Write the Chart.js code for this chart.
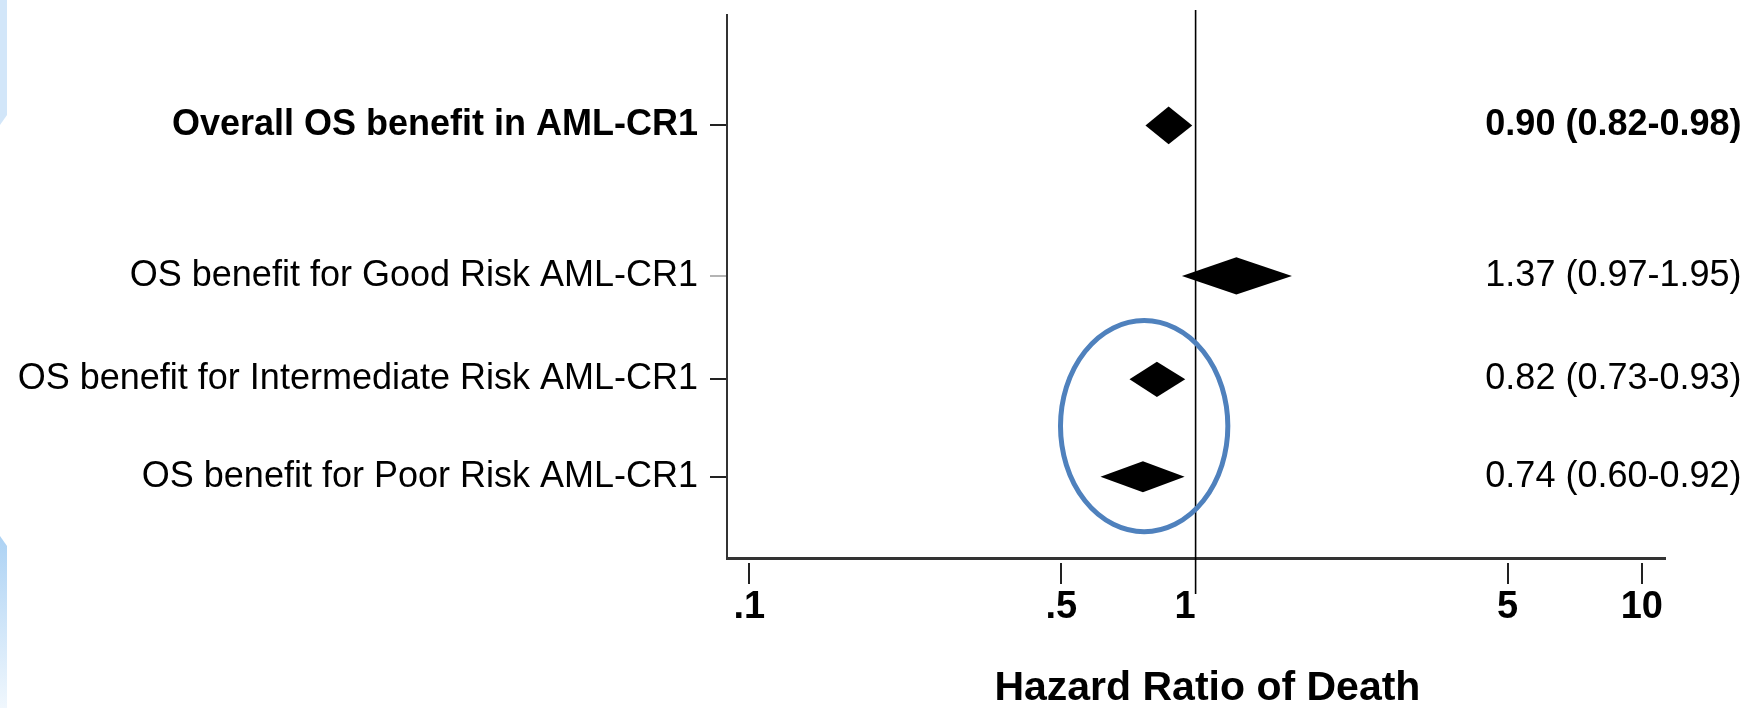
<!DOCTYPE html>
<html>
<head>
<meta charset="utf-8">
<script src="https://cdn.jsdelivr.net/npm/chart.js@4.4.1/dist/chart.umd.min.js"></script>
<style>
  html, body { margin:0; padding:0; background:#fff; }
  #wrap { position:relative; width:1747px; height:708px; }
  .deco { position:absolute; left:0; width:7px; }
  #decoTop { top:0; height:125px; background:#d2e6f9; clip-path:polygon(0 0,100% 0,100% 115px,0 125px); }
  #decoBot { top:536px; height:172px; background:linear-gradient(#acd2f4,#f0f7fd); clip-path:polygon(0 0,100% 10px,100% 100%,0 100%); }
  canvas { position:relative; }
</style>
</head>
<body>
<div id="wrap">
  <div class="deco" id="decoTop"></div>
  <div class="deco" id="decoBot"></div>
  <canvas id="forest"></canvas>
</div>
<script>
const FUENTE = "'Liberation Sans', Arial, sans-serif";

// ── Datos (filas de arriba a abajo) ─────────────────────────────────────────
const filas      = ["Overall OS benefit in AML-CR1", "OS benefit for Good Risk AML-CR1",
                    "OS benefit for Intermediate Risk AML-CR1", "OS benefit for Poor Risk AML-CR1"];
const posFila    = [4.5, 3, 1.97, 1];
const textoHR    = ["0.90 (0.82-0.98)", "1.37 (0.97-1.95)", "0.82 (0.73-0.93)", "0.74 (0.60-0.92)"];
// diamantes tal como se ven en el gráfico: extremo izq / centro / extremo der
const hrBajo     = [0.772, 0.932, 0.711, 0.612];
const hrCentro   = [0.870, 1.234, 0.819, 0.762];
const hrAlto     = [0.983, 1.644, 0.948, 0.945];
const ticksX     = [0.1, 0.5, 1, 5, 10];
const etiquetasX = [".1", ".5", "1", "5", "10"];
// elipse azul que marca los dos riesgos (en unidades de datos)
const elipse     = { xMin: 0.498, xMax: 1.181, yMin: 0.452, yMax: 2.556 };

// ── Plugin: diamantes, línea HR=1, textos de la derecha y elipse ────────────
const pluginForest = {
  id: "forest",
  afterDatasetsDraw(chart, args, opts) {
    const { ctx, scales: { x, y } } = chart;
    ctx.save();
    chart.data.datasets[0].data.forEach((d, i) => {
      const cy = y.getPixelForValue(d.y);
      const h  = opts.medioAlto[i];
      ctx.beginPath();
      ctx.moveTo(x.getPixelForValue(d.lo), cy);
      ctx.lineTo(x.getPixelForValue(d.x),  cy - h);
      ctx.lineTo(x.getPixelForValue(d.hi), cy);
      ctx.lineTo(x.getPixelForValue(d.x),  cy + h);
      ctx.closePath();
      ctx.fillStyle = "#000";
      ctx.fill();
    });
    ctx.restore();
  },
  afterDraw(chart, args, opts) {
    const { ctx, chartArea, scales: { x, y } } = chart;
    ctx.save();
    // línea de referencia en 1
    const x1 = x.getPixelForValue(1);
    ctx.beginPath();
    ctx.moveTo(x1, chartArea.top - 5);
    ctx.lineTo(x1, chartArea.bottom + 36);
    ctx.lineWidth = 1.6;
    ctx.strokeStyle = "#000";
    ctx.stroke();

    // HR (IC) a la derecha
    ctx.textAlign = "right";
    ctx.textBaseline = "middle";
    ctx.fillStyle = "#000";
    textoHR.forEach((t, i) => {
      ctx.font = (i === 0 ? "bold " : "") + "36px " + FUENTE;
      ctx.fillText(t, chart.width - 5.5, y.getPixelForValue(posFila[i]));
    });

    // elipse
    const xa = x.getPixelForValue(elipse.xMin), xb = x.getPixelForValue(elipse.xMax);
    const ya = y.getPixelForValue(elipse.yMax), yb = y.getPixelForValue(elipse.yMin);
    ctx.beginPath();
    ctx.ellipse((xa + xb) / 2, (ya + yb) / 2, (xb - xa) / 2, (yb - ya) / 2, 0, 0, Math.PI * 2);
    ctx.lineWidth = 5;
    ctx.strokeStyle = "#4f81bd";
    ctx.stroke();
    ctx.restore();
  }
};

new Chart(document.getElementById("forest"), {
  type: "scatter",
  data: {
    datasets: [{
      data: filas.map((f, i) => ({ x: hrCentro[i], y: posFila[i], lo: hrBajo[i], hi: hrAlto[i] })),
      pointRadius: 0, pointHoverRadius: 0
    }]
  },
  options: {
    responsive: true, maintainAspectRatio: false, animation: false,
    layout: { padding: { top: 15, right: 82, bottom: 0, left: 0 } },
    scales: {
      x: {
        type: "logarithmic", bounds: "data", min: 0.0891, max: 11.27,
        afterBuildTicks: s => { s.ticks = ticksX.map(v => ({ value: v })); },
        afterFit: s => { s.height = 150; s.paddingLeft = 0; s.paddingRight = 0; },
        border: { display: true, color: "#333", width: 3 },
        grid: {
          drawOnChartArea: false, drawTicks: true, tickLength: 26, lineWidth: 2,
          color: c => (c.tick && c.tick.value === 1) ? "rgba(0,0,0,0)" : "#222",
          tickBorderDash: [0, 3, 21, 100]
        },
        ticks: {
          autoSkip: false, maxRotation: 0, padding: 5, color: "#000",
          font: { family: FUENTE, size: 38, weight: "bold", lineHeight: 1 },
          // el "1" del original queda algo a la izquierda de su marca
          callback: v => v === 1 ? "1  " : etiquetasX[ticksX.indexOf(v)]
        },
        title: {
          display: true, text: "  Hazard Ratio of Death", color: "#000",
          font: { family: FUENTE, size: 41, weight: "bold", lineHeight: 0.9 },
          padding: { top: 0, bottom: 1 }
        }
      },
      y: {
        type: "linear", bounds: "data", min: 0.19, max: 5.6,
        afterBuildTicks: s => { s.ticks = posFila.map(v => ({ value: v })); },
        afterFit: s => { s.width = 727; s.paddingTop = 0; s.paddingBottom = 0; },
        border: { display: true, color: "#333", width: 2 },
        grid: {
          drawOnChartArea: false, drawTicks: true, tickLength: 17, lineWidth: 2,
          color: c => (c.tick && c.tick.value === posFila[1]) ? "#b4b4b4" : "#222"
        },
        ticks: {
          autoSkip: false, padding: 12, color: "#000",
          font: c => ({ family: FUENTE, size: 36, weight: (c.tick && c.tick.value === posFila[0]) ? "bold" : "normal" }),
          callback: v => filas[posFila.indexOf(v)]
        }
      }
    },
    plugins: {
      legend: { display: false },
      tooltip: { enabled: false },
      forest: { medioAlto: [18.8, 18.6, 17.6, 15.5] }
    }
  },
  plugins: [pluginForest]
});
</script>
</body>
</html>
